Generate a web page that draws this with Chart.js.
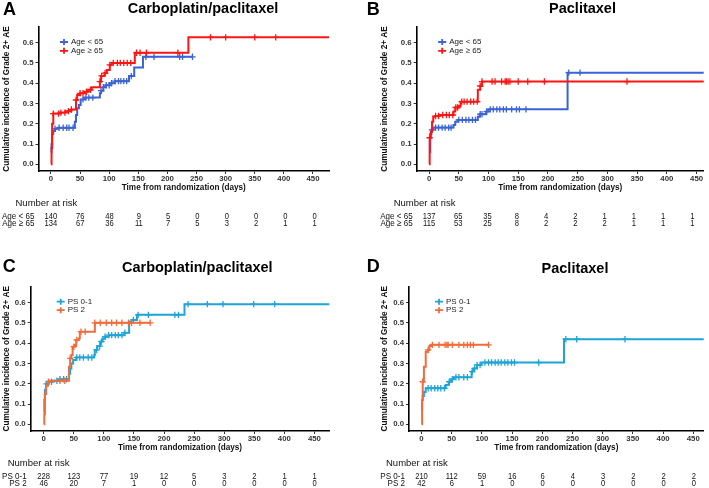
<!DOCTYPE html>
<html>
<head>
<meta charset="utf-8">
<script src="https://cdn.jsdelivr.net/npm/chart.js@4.4.1/dist/chart.umd.min.js"></script>
<style>
  html, body { margin: 0; padding: 0; background: #fff; }
  #figure { position: relative; width: 709px; height: 488px; overflow: hidden; }
  #figure canvas { position: absolute; }
</style>
</head>
<body>
<div id="figure">
  <canvas id="chartA" width="354" height="240" style="left:0;top:0"></canvas>
  <canvas id="chartB" width="355" height="240" style="left:354px;top:0"></canvas>
  <canvas id="chartC" width="354" height="248" style="left:0;top:240px"></canvas>
  <canvas id="chartD" width="355" height="248" style="left:354px;top:240px"></canvas>
</div>
<script>
const dayTicks = [0, 50, 100, 150, 200, 250, 300, 350, 400, 450];
const incidenceTicks = [0, 0.1, 0.2, 0.3, 0.4, 0.5, 0.6];

// step curves are [day, cumulative incidence]; censor lists are days with a "+"
// A: carboplatin/paclitaxel by age
const carboUnder65 = [[0,0.06],[1,0.10],[2,0.15],[4,0.165],[7,0.175],[12,0.18],[41,0.21],[43,0.243],[45,0.276],[48,0.293],[51,0.32],[58,0.329],[84,0.35],[86,0.363],[90,0.38],[94,0.39],[101,0.40],[110,0.41],[134,0.435],[143,0.477],[158,0.53],[243,0.53]];
const carboUnder65Censor = [7,14,21,27,31,38,55,60,65,72,86,90,95,100,104,110,116,120,125,130,138,163,177,221,226,243];
const carboOver65 = [[0,0],[1,0.08],[2,0.2],[4,0.25],[14,0.255],[25,0.262],[35,0.27],[43,0.317],[45,0.342],[50,0.35],[58,0.358],[64,0.367],[70,0.38],[84,0.408],[86,0.436],[92,0.45],[96,0.465],[101,0.49],[104,0.5],[144,0.55],[236,0.626],[480,0.626]];
const carboOver65Censor = [4,13,17,24,30,35,43,50,55,61,68,84,87,93,101,107,114,119,125,131,137,147,153,164,218,274,300,350,386];
const carboUnder65Risk = [140, 76, 48, 9, 5, 0, 0, 0, 0, 0];
const carboOver65Risk = [134, 67, 36, 11, 7, 5, 3, 2, 1, 1];

// B: paclitaxel by age
const pacUnder65 = [[0,0.06],[2,0.15],[4,0.17],[7,0.181],[41,0.194],[44,0.21],[48,0.219],[82,0.235],[85,0.247],[96,0.26],[100,0.271],[233,0.452],[480,0.452]];
const pacUnder65Censor = [5,11,16,22,27,33,37,50,56,62,67,73,78,86,89,97,103,108,114,119,125,130,139,147,152,163,235,254];
const pacOver65 = [[0,0],[1,0.131],[3,0.16],[5,0.21],[7,0.235],[10,0.238],[17,0.243],[41,0.26],[44,0.28],[50,0.288],[53,0.309],[82,0.367],[86,0.386],[89,0.408],[480,0.408]];
const pacOver65Censor = [1,11,16,23,29,34,40,45,48,55,59,64,70,75,81,86,89,106,111,122,128,130,133,136,150,166,194,333];
const pacUnder65Risk = [137, 65, 35, 8, 4, 2, 1, 1, 1, 1];
const pacOver65Risk = [115, 53, 25, 8, 2, 2, 2, 1, 1, 1];

// C: carboplatin/paclitaxel by performance status
const carboPs01 = [[0,0.06],[1,0.12],[2,0.17],[4,0.2],[8,0.21],[15,0.215],[25,0.222],[42,0.25],[44,0.276],[46,0.3],[49,0.317],[54,0.33],[84,0.342],[85,0.367],[89,0.386],[94,0.408],[98,0.424],[102,0.432],[108,0.44],[134,0.452],[142,0.506],[146,0.515],[155,0.54],[234,0.593],[480,0.593]];
const carboPs01Censor = [5,13,22,27,33,38,55,60,66,74,80,88,93,96,102,108,113,119,124,130,135,149,157,174,218,224,240,272,298,349,384];
const carboPs2 = [[0,0],[1,0.05],[2,0.15],[4,0.19],[7,0.21],[10,0.215],[42,0.284],[44,0.325],[46,0.342],[48,0.383],[52,0.391],[54,0.416],[58,0.424],[60,0.457],[85,0.501],[177,0.501]];
const carboPs2Censor = [8,27,35,44,50,55,62,69,85,94,104,113,121,130,141,146,160,177];
const carboPs01Risk = [228, 123, 77, 19, 12, 5, 3, 2, 1, 1];
const carboPs2Risk = [46, 20, 7, 1, 0, 0, 0, 0, 0, 0];

// D: paclitaxel by performance status
const pacPs01 = [[0,0.07],[1,0.12],[2,0.14],[4,0.16],[7,0.178],[40,0.194],[45,0.21],[49,0.222],[54,0.232],[83,0.26],[86,0.276],[92,0.293],[99,0.305],[236,0.42],[480,0.42]];
const pacPs01Censor = [11,16,22,27,32,38,46,51,57,62,70,76,84,88,92,97,105,111,116,122,127,132,138,143,149,154,194,239,257,337];
const pacPs2 = [[0,0],[1,0.12],[2,0.21],[3,0.22],[4,0.284],[7,0.358],[11,0.367],[13,0.386],[16,0.392],[111,0.392]];
const pacPs2Censor = [2,11,18,29,39,42,44,51,62,70,76,81,86,111];
const pacPs01Risk = [210, 112, 59, 16, 6, 4, 3, 2, 2, 2];
const pacPs2Risk = [42, 6, 1, 0, 0, 0, 0, 0, 0, 0];

const ageLabels = ['Age < 65', 'Age \u2265 65'];
const psLabels = ['PS 0-1', 'PS 2'];
const colors = { young: '#3b63d6', old: '#ff1414', ps01: '#1ea4d6', ps2: '#f26b3b' };

const FONT = '"Liberation Sans", Arial, Helvetica, sans-serif';
Chart.defaults.font.family = FONT;

const stepAt = (steps, t) => {
  let y = steps[0][1];
  steps.forEach(([x, v]) => { if (x <= t) y = v; });
  return y;
};

const panelDecor = {
  id: 'panelDecor',
  afterDraw(chart, args, opts) {
    const { ctx, chartArea: area, scales } = chart;
    ctx.save();
    ctx.fillStyle = '#000';

    ctx.textAlign = 'left';
    ctx.textBaseline = 'alphabetic';
    ctx.font = `bold 18px ${FONT}`;
    ctx.fillText(opts.letter, opts.letterX, opts.letterY);

    ctx.textAlign = 'center';
    ctx.font = `bold 14.5px ${FONT}`;
    ctx.fillText(opts.title, opts.titleX, opts.titleY);

    ctx.textBaseline = 'middle';
    ctx.font = `bold 8.2px ${FONT}`;
    ctx.fillStyle = '#111';
    ctx.fillText('Time from randomization (days)', (area.left + area.right) / 2, area.bottom + 17);

    ctx.save();
    ctx.translate(opts.yTitleX, (area.top + area.bottom) / 2);
    ctx.rotate(-Math.PI / 2);
    ctx.fillText('Cumulative incidence of Grade 2+ AE', 0, 0);
    ctx.restore();

    // legend
    opts.groups.forEach((g, i) => {
      const x = area.left + opts.legendDx;
      const y = area.top + opts.legendDy + i * opts.legendGap;
      ctx.strokeStyle = g.color;
      ctx.lineWidth = 1.8;
      ctx.beginPath();
      ctx.moveTo(x, y);
      ctx.lineTo(x + 8, y);
      ctx.moveTo(x + 4, y - 3);
      ctx.lineTo(x + 4, y + 3);
      ctx.stroke();
      ctx.fillStyle = '#222';
      ctx.textAlign = 'left';
      ctx.font = `8px ${FONT}`;
      ctx.fillText(g.label, x + 11, y);
    });

    // number at risk table
    ctx.fillStyle = '#111';
    ctx.textAlign = 'left';
    ctx.font = `9.5px ${FONT}`;
    ctx.fillText('Number at risk', area.left - 23, area.bottom + 32);

    const x0 = scales.x.getPixelForValue(dayTicks[0]);
    ctx.font = `9.5px ${FONT}`;
    opts.groups.forEach((g, r) => {
      const y = area.bottom + 45.7 + r * 6.6;
      ctx.save();
      ctx.translate(area.left - 4, y);
      ctx.scale(0.85, 1);
      ctx.textAlign = 'right';
      ctx.fillText(g.label, 0, 0);
      ctx.restore();
      g.risk.forEach((n, i) => {
        ctx.save();
        ctx.translate(x0 + i * opts.riskStep, y);
        ctx.scale(0.8, 1);
        ctx.textAlign = 'center';
        ctx.fillText(String(n), 0, 0);
        ctx.restore();
      });
    });
    ctx.restore();
  }
};

const buildPanel = (cfg) => {
  const canvas = document.getElementById(cfg.id);
  const W = canvas.width;
  const H = canvas.height;
  const datasets = [];
  cfg.groups.forEach((g, i) => {
    const order = cfg.groups.length - i;
    datasets.push({
      label: g.label,
      data: g.steps.map(([x, y]) => ({ x, y })),
      stepped: true,
      borderColor: g.color,
      borderWidth: 2,
      pointRadius: 0,
      fill: false,
      order,
    });
    datasets.push({
      label: g.label + ' censored',
      data: g.censor.map((t) => ({ x: t, y: stepAt(g.steps, t) })),
      showLine: false,
      pointStyle: 'cross',
      pointRadius: 3.2,
      pointBorderWidth: 1.3,
      pointBorderColor: g.color,
      pointBackgroundColor: g.color,
      order,
    });
  });

  const tickStyle = { size: 7.8, weight: 'bold' };
  new Chart(canvas, {
    type: 'line',
    data: { datasets },
    options: {
      responsive: false,
      animation: false,
      events: [],
      layout: { padding: { top: cfg.area.top, right: W - cfg.area.right, bottom: 0, left: 0 } },
      scales: {
        x: {
          type: 'linear',
          min: cfg.xMin,
          max: cfg.xMax,
          afterBuildTicks: (s) => { s.ticks = dayTicks.map((v) => ({ value: v })); },
          afterFit: (s) => { s.height = H - cfg.area.bottom; },
          grid: { drawOnChartArea: false, drawTicks: true, tickLength: 3, color: '#333', lineWidth: 1 },
          border: { display: true, color: '#000', width: 1.6 },
          ticks: { font: tickStyle, color: '#333', padding: 0, maxRotation: 0, autoSkip: false },
        },
        y: {
          type: 'linear',
          min: cfg.yMin,
          max: cfg.yMax,
          afterBuildTicks: (s) => { s.ticks = incidenceTicks.map((v) => ({ value: v })); },
          afterFit: (s) => { s.width = cfg.area.left; },
          grid: { drawOnChartArea: false, drawTicks: true, tickLength: 3, color: '#333', lineWidth: 1 },
          border: { display: true, color: '#000', width: 1.6 },
          ticks: { font: tickStyle, color: '#333', padding: 2, callback: (v) => v.toFixed(1) },
        },
      },
      plugins: {
        legend: { display: false },
        tooltip: { enabled: false },
        title: { display: false },
        panelDecor: cfg,
      },
    },
    plugins: [panelDecor],
  });
};

const panels = [
  {
    id: 'chartA', letter: 'A', title: 'Carboplatin/paclitaxel',
    area: { left: 38.5, right: 329, top: 27, bottom: 171 },
    xMin: -21.4, xMax: 477.5, yMin: -0.033, yMax: 0.677,
    letterX: 3, letterY: 15, titleX: 203, titleY: 12.5, yTitleX: 6.7,
    legendDx: 21.5, legendDy: 15, legendGap: 8.8, riskStep: 29.3,
    groups: [
      { label: ageLabels[0], color: colors.young, steps: carboUnder65, censor: carboUnder65Censor, risk: carboUnder65Risk },
      { label: ageLabels[1], color: colors.old, steps: carboOver65, censor: carboOver65Censor, risk: carboOver65Risk },
    ],
  },
  {
    id: 'chartB', letter: 'B', title: 'Paclitaxel',
    area: { left: 62.7, right: 355, top: 27, bottom: 171 },
    xMin: -20.8, xMax: 462, yMin: -0.033, yMax: 0.677,
    letterX: 12.7, letterY: 15, titleX: 228.5, titleY: 12.5, yTitleX: 31,
    legendDx: 21.5, legendDy: 15, legendGap: 8.8, riskStep: 29.26,
    groups: [
      { label: ageLabels[0], color: colors.young, steps: pacUnder65, censor: pacUnder65Censor, risk: pacUnder65Risk },
      { label: ageLabels[1], color: colors.old, steps: pacOver65, censor: pacOver65Censor, risk: pacOver65Risk },
    ],
  },
  {
    id: 'chartC', letter: 'C', title: 'Carboplatin/paclitaxel',
    area: { left: 30.7, right: 329.3, top: 46.7, bottom: 191 },
    xMin: -21.6, xMax: 474.7, yMin: -0.033, yMax: 0.679,
    letterX: 2.7, letterY: 31.7, titleX: 197.3, titleY: 32, yTitleX: 6.7,
    legendDx: 26, legendDy: 15, legendGap: 8.5, riskStep: 30.1,
    groups: [
      { label: psLabels[0], color: colors.ps01, steps: carboPs01, censor: carboPs01Censor, risk: carboPs01Risk },
      { label: psLabels[1], color: colors.ps2, steps: carboPs2, censor: carboPs2Censor, risk: carboPs2Risk },
    ],
  },
  {
    id: 'chartD', letter: 'D', title: 'Paclitaxel',
    area: { left: 55, right: 355, top: 46.7, bottom: 191 },
    xMin: -20.7, xMax: 467.3, yMin: -0.033, yMax: 0.679,
    letterX: 12.7, letterY: 31.7, titleX: 221, titleY: 32.5, yTitleX: 31,
    legendDx: 26, legendDy: 15, legendGap: 8.5, riskStep: 30.25,
    groups: [
      { label: psLabels[0], color: colors.ps01, steps: pacPs01, censor: pacPs01Censor, risk: pacPs01Risk },
      { label: psLabels[1], color: colors.ps2, steps: pacPs2, censor: pacPs2Censor, risk: pacPs2Risk },
    ],
  },
];

panels.forEach(buildPanel);
</script>
</body>
</html>
